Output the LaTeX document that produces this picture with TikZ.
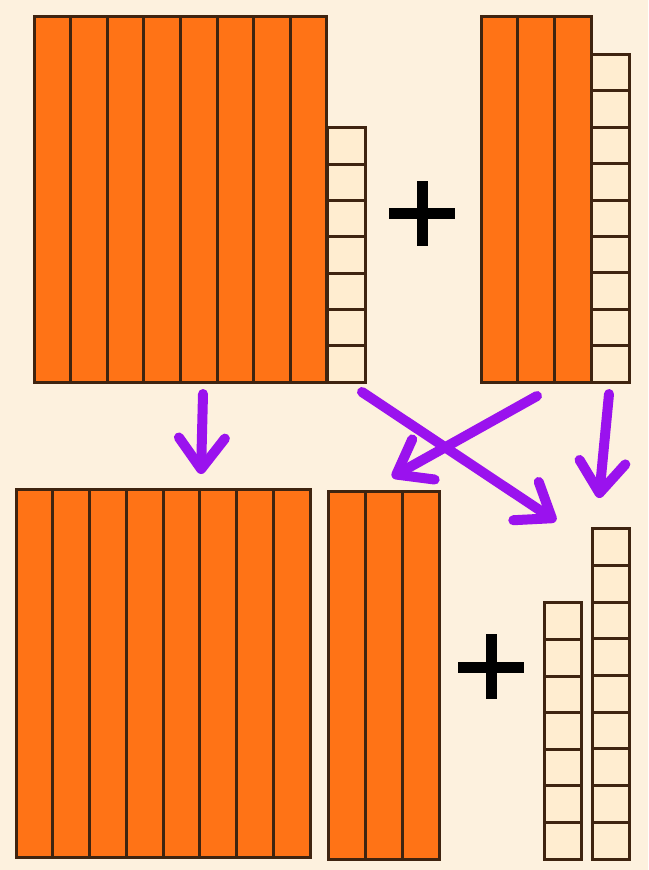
\documentclass[tikz,border=0pt]{standalone}
\usetikzlibrary{arrows.meta}
\definecolor{paper}{HTML}{FDF1DE}
\definecolor{tenfill}{HTML}{FF7316}
\definecolor{onefill}{HTML}{FFEDD0}
\definecolor{edge}{HTML}{3F2410}
\definecolor{move}{HTML}{9A12EE}
\tikzset{
  ten/.style={draw=edge, fill=tenfill, line width=3pt},
  one/.style={draw=edge, fill=onefill, line width=3pt},
  plusbar/.style={draw=black, line width=11pt},
  regroup/.style={draw=move, line width=10pt, line cap=round, line join=round,
    -{Straight Barb[round, length=31pt, width=46pt]}}
}
\begin{document}
\begin{tikzpicture}[x=1pt,y=-1pt]
        \useasboundingbox[fill=paper] (0,0) rectangle (648,870);
        % top left: 8 tens and 7 ones
        \foreach \i in {0,...,7} \draw[ten] (34+36.6*\i,16) rectangle (34+36.6*\i+36.6,382);
        \foreach \j in {0,...,6} \draw[one] (327,382-36.3*\j) rectangle (365,382-36.3*\j-36.3);
        % plus
        \draw[plusbar] (389,213) -- (455,213);
        \draw[plusbar] (422,181) -- (422,246);
        % top right: 3 tens and 9 ones
        \foreach \i in {0,...,2} \draw[ten] (481+36.7*\i,16) rectangle (481+36.7*\i+36.7,382);
        \foreach \j in {0,...,8} \draw[one] (591,382-36.4*\j) rectangle (629,382-36.4*\j-36.4);
        % bottom: 8 tens, 3 tens
        \foreach \i in {0,...,7} \draw[ten] (16+36.75*\i,489) rectangle (16+36.75*\i+36.75,857);
        \foreach \i in {0,...,2} \draw[ten] (328+37*\i,491) rectangle (328+37*\i+37,859);
        % plus
        \draw[plusbar] (458,667) -- (524,667);
        \draw[plusbar] (491,634) -- (491,699);
        % bottom ones: 7 and 9
        \foreach \j in {0,...,6} \draw[one] (544,859-36.6*\j) rectangle (581,859-36.6*\j-36.6);
        \foreach \j in {0,...,8} \draw[one] (592,859-36.7*\j) rectangle (629,859-36.7*\j-36.7);
        % arrows
        \coordinate (tl) at (203,394);
        \coordinate (bl) at (201,474);
        \coordinate (tm) at (362,392);
        \coordinate (br) at (556,521);
        \coordinate (tr) at (537,396);
        \coordinate (bm) at (392,477);
        \coordinate (tu) at (609,394);
        \coordinate (bu) at (599,498);
        \draw[regroup] (tl) -- (bl);
        \draw[regroup] (tm) -- (br);
        \draw[regroup] (tr) -- (bm);
        \draw[regroup] (tu) -- (bu);
\end{tikzpicture}
\end{document}
